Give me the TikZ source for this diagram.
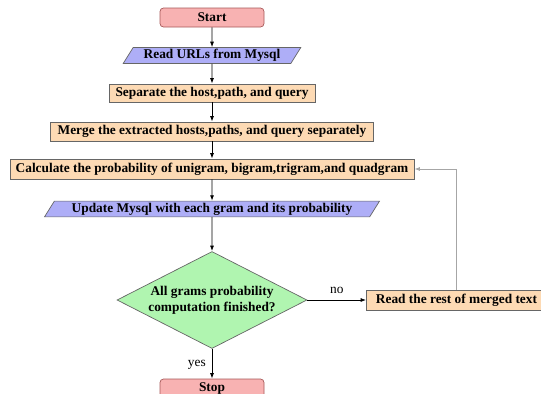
\documentclass[tikz,border=0pt]{standalone}
\usepackage{fontspec}
\setmainfont{Liberation Serif}
\usepackage{tikz}
\usetikzlibrary{shapes.geometric}
\usetikzlibrary{positioning}
\usetikzlibrary{arrows.meta}
\usepackage{xcolor}
\definecolor{termred}{HTML}{F8B2B2}
\definecolor{ioblue}{HTML}{AEAEF7}
\definecolor{procpeach}{HTML}{FDDAB4}
\definecolor{decgreen}{HTML}{B0F5B0}

\begin{document}
\begin{tikzpicture}[
        font=\bfseries\fontsize{7.6}{9}\selectfont,
        terminal/.style={draw=red!30!gray, rectangle, rounded corners=2pt, fill=termred, minimum width=2.08cm, minimum height=0.38cm, inner sep=1pt},
        iobox/.style={draw=gray!80!black, trapezium, trapezium left angle=58, trapezium right angle=122, trapezium stretches body, fill=ioblue, minimum height=0.28cm, inner ysep=1pt},
        procbox/.style={draw=gray!80!black, rectangle, fill=procpeach, minimum height=0.38cm, inner sep=1pt},
        decision/.style={draw=gray!80!black, diamond, aspect=1.96, fill=decgreen, align=center, inner sep=0pt, minimum width=3.8cm, minimum height=1.94cm},
        flow/.style={->, >={Latex[length=1.1mm,width=0.8mm]}, line width=0.5pt},
        loopback/.style={->, >={Latex[length=1.1mm,width=0.8mm]}, line width=0.5pt, draw=gray!70}
    ]
            \useasboundingbox (0,0) rectangle (10.82,-7.88);

            \node[terminal] (start) at (4.24,-0.35) {Start};
            \node[iobox, minimum width=3.55cm] (readurl) at (4.24,-1.11) {Read URLs from Mysql};
            \node[procbox, minimum width=4.12cm, minimum height=0.36cm] (separate) at (4.24,-1.86) {Separate the host,path, and query};
            \node[procbox, minimum width=6.46cm] (merge) at (4.24,-2.63) {Merge the extracted hosts,paths, and query separately};
            \node[procbox, minimum width=8.08cm, minimum height=0.40cm] (calc) at (4.24,-3.38) {Calculate the probability of unigram, bigram,trigram,and quadgram};
            \node[iobox, minimum width=6.7cm] (update) at (4.24,-4.18) {Update Mysql with each gram and its probability};
            \node[decision] (finished) at (4.24,-6.0) {All grams probability\\computation finished?};
            \node[procbox, minimum width=3.6cm, minimum height=0.40cm] (readrest) at (9.13,-6.0) {Read the rest of merged text};
            \node[terminal] (stop) at (4.24,-7.77) {Stop};

            \draw[flow] (start) -- (readurl);
            \draw[flow] (readurl) -- (separate);
            \draw[flow] (separate) -- (merge);
            \draw[flow] (merge) -- (calc);
            \draw[flow] (calc) -- (update);
            \draw[flow] (update) -- (finished);
            \draw[flow] (finished) -- node[above, font=\fontsize{7.6}{9}\selectfont] {no} (readrest);
            \draw[flow] (finished) -- node[left, font=\fontsize{7.6}{9}\selectfont, pos=0.55] {yes} (stop);
            \draw[loopback] (readrest.north) |- (calc.east);
        \end{tikzpicture}
\end{document}
